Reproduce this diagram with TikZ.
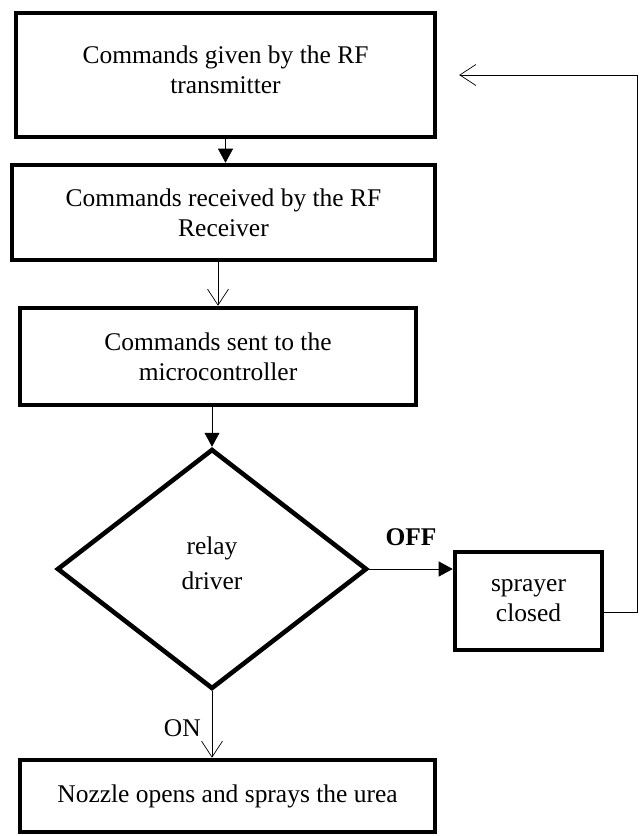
\documentclass[tikz,border=0pt]{standalone}
\usepackage{fontspec}
\setmainfont{Liberation Serif}
\usetikzlibrary{positioning,shapes.geometric,arrows.meta}

\begin{document}
\begin{tikzpicture}[x=0.02cm,y=-0.02cm,
	blk/.style={draw,line width=2.6pt,align=center,inner sep=0pt,font=\fontsize{14.5pt}{17pt}\selectfont},
	decide/.style={blk,diamond,aspect=1.3},
	fill tip/.style={-{Triangle[length=0.28cm,width=0.3cm]}},
	open tip/.style={-{Straight Barb[length=0.32cm,width=0.42cm]}}]
				\useasboundingbox (0,0) rectangle (641,836);
				\node[blk,minimum width=8.38cm,minimum height=2.48cm] (tx) at (225.5,75) {};
				\node[font=\fontsize{14.5pt}{17pt}\selectfont,align=center] (txtext) at (tx.center) [yshift=0.1cm] {Commands given by the RF\\transmitter};
				\node[blk,minimum width=8.46cm,minimum height=1.9cm] (rx) at (223.5,212.5) {Commands received by the RF\\Receiver};
				\node[blk,minimum width=7.92cm,minimum height=1.94cm] (mcu) at (218,356.5) {Commands sent to the\\microcontroller};
				\node[decide,minimum width=6.2cm,minimum height=4.8cm] (relay) at (212,569) {relay\\[3pt]driver\\[-10pt]};
				\node[blk,minimum width=2.94cm,minimum height=1.96cm] (spray) at (528.5,601) {sprayer\\closed};
				\node[blk,minimum width=8.3cm,minimum height=1.44cm] (noz) at (227.5,796) {Nozzle opens and sprays the urea};
				\coordinate (ret) at ([xshift=0.44cm]tx.east);
				\draw[fill tip] (tx.south) -- (tx.south |- rx.north);
				\draw[open tip] (mcu.north |- rx.south) -- (mcu.north);
				\draw[fill tip] (relay.north |- mcu.south) -- (relay.north);
				\draw[fill tip] (relay.east) -- node[above=0.35cm,font=\fontsize{14.5pt}{17pt}\selectfont\bfseries] {OFF} (relay.east -| spray.west);
				\draw[open tip] (relay.south) -- node[pos=0.55,left=0.1cm,font=\fontsize{14.5pt}{17pt}\selectfont] {ON} (relay.south |- noz.north);
				\draw[open tip] ([yshift=-0.22cm]spray.east) -- ++(0.66cm,0) |- (ret);
			\end{tikzpicture}
\end{document}
